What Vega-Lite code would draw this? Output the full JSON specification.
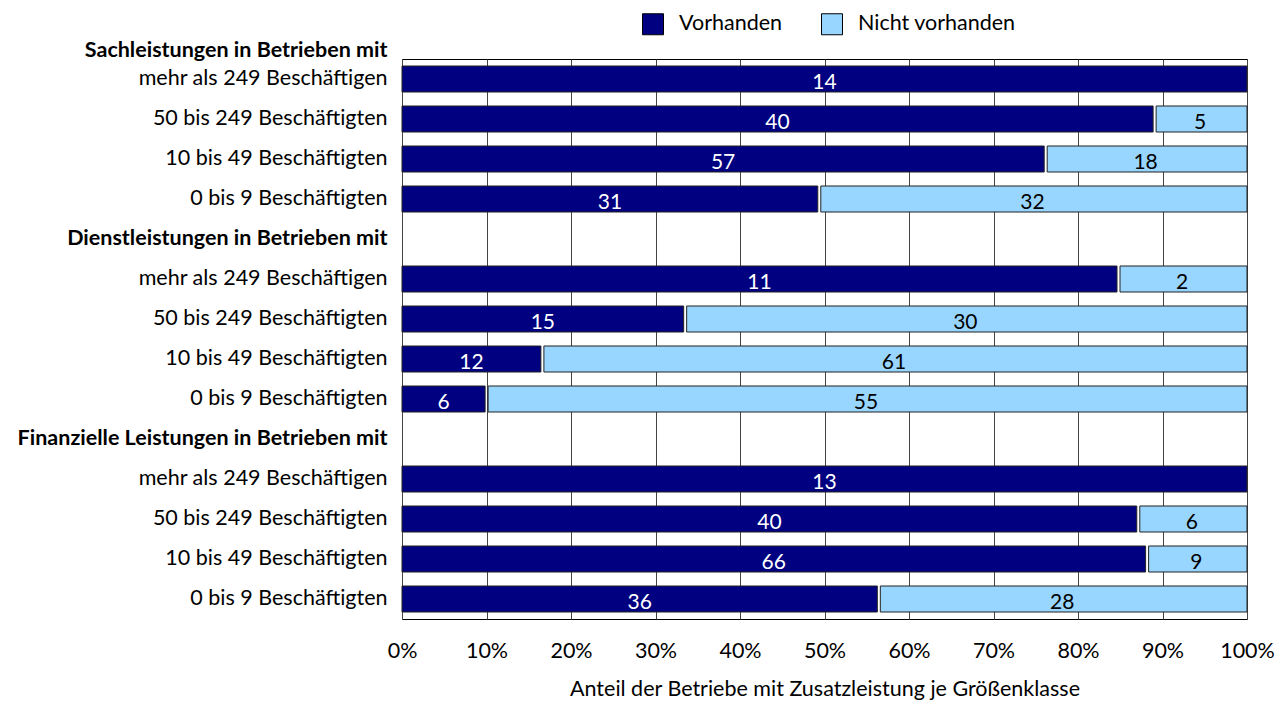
{
  "$schema": "https://vega.github.io/schema/vega-lite/v6.json",
  "autosize": {"type": "none"},
  "padding": {"left": 402, "top": 59, "right": 36, "bottom": 82},
  "width": 845,
  "height": 560,
  "background": "#ffffff",
  "data": {
    "values": [
      {"row": "Sach|mehr als 249 Beschäftigen", "status": "Vorhanden", "n": 14},
      {"row": "Sach|50 bis 249 Beschäftigten", "status": "Vorhanden", "n": 40},
      {"row": "Sach|50 bis 249 Beschäftigten", "status": "Nicht vorhanden", "n": 5},
      {"row": "Sach|10 bis 49 Beschäftigten", "status": "Vorhanden", "n": 57},
      {"row": "Sach|10 bis 49 Beschäftigten", "status": "Nicht vorhanden", "n": 18},
      {"row": "Sach|0 bis 9 Beschäftigten", "status": "Vorhanden", "n": 31},
      {"row": "Sach|0 bis 9 Beschäftigten", "status": "Nicht vorhanden", "n": 32},
      {"row": "Dienst|mehr als 249 Beschäftigen", "status": "Vorhanden", "n": 11},
      {"row": "Dienst|mehr als 249 Beschäftigen", "status": "Nicht vorhanden", "n": 2},
      {"row": "Dienst|50 bis 249 Beschäftigten", "status": "Vorhanden", "n": 15},
      {"row": "Dienst|50 bis 249 Beschäftigten", "status": "Nicht vorhanden", "n": 30},
      {"row": "Dienst|10 bis 49 Beschäftigten", "status": "Vorhanden", "n": 12},
      {"row": "Dienst|10 bis 49 Beschäftigten", "status": "Nicht vorhanden", "n": 61},
      {"row": "Dienst|0 bis 9 Beschäftigten", "status": "Vorhanden", "n": 6},
      {"row": "Dienst|0 bis 9 Beschäftigten", "status": "Nicht vorhanden", "n": 55},
      {"row": "Finanz|mehr als 249 Beschäftigen", "status": "Vorhanden", "n": 13},
      {"row": "Finanz|50 bis 249 Beschäftigten", "status": "Vorhanden", "n": 40},
      {"row": "Finanz|50 bis 249 Beschäftigten", "status": "Nicht vorhanden", "n": 6},
      {"row": "Finanz|10 bis 49 Beschäftigten", "status": "Vorhanden", "n": 66},
      {"row": "Finanz|10 bis 49 Beschäftigten", "status": "Nicht vorhanden", "n": 9},
      {"row": "Finanz|0 bis 9 Beschäftigten", "status": "Vorhanden", "n": 36},
      {"row": "Finanz|0 bis 9 Beschäftigten", "status": "Nicht vorhanden", "n": 28}
    ]
  },
  "transform": [
    {"stack": "n", "groupby": ["row"], "offset": "normalize", "sort": [{"field": "status", "order": "descending"}], "as": ["x0", "x1"]},
    {"calculate": "(datum.x0 + datum.x1) / 2", "as": "xmid"}
  ],
  "encoding": {
    "y": {
      "field": "row",
      "type": "nominal",
      "scale": {
        "domain": [
          "Sach|mehr als 249 Beschäftigen",
          "Sach|50 bis 249 Beschäftigten",
          "Sach|10 bis 49 Beschäftigten",
          "Sach|0 bis 9 Beschäftigten",
          "Dienst|Dienstleistungen in Betrieben mit",
          "Dienst|mehr als 249 Beschäftigen",
          "Dienst|50 bis 249 Beschäftigten",
          "Dienst|10 bis 49 Beschäftigten",
          "Dienst|0 bis 9 Beschäftigten",
          "Finanz|Finanzielle Leistungen in Betrieben mit",
          "Finanz|mehr als 249 Beschäftigen",
          "Finanz|50 bis 249 Beschäftigten",
          "Finanz|10 bis 49 Beschäftigten",
          "Finanz|0 bis 9 Beschäftigten"
        ],
        "paddingInner": 0.35,
        "paddingOuter": 0.175
      },
      "axis": {
        "title": "Sachleistungen in Betrieben mit",
        "titleAngle": 0,
        "titleAlign": "right",
        "titleBaseline": "middle",
        "titleX": -15,
        "titleY": -9,
        "titleFontSize": 21.5,
        "titleFontWeight": "bold",
        "titleColor": "#000000",
        "labelExpr": "split(datum.value, '|')[1]",
        "labelFontSize": 21.5,
        "labelColor": "#000000",
        "labelPadding": 15,
        "labelLimit": 500,
        "labelFontWeight": {"condition": {"test": "indexof(datum.value, 'Betrieben mit') >= 0", "value": "bold"}, "value": "normal"},
        "ticks": false,
        "domain": false,
        "grid": false
      }
    }
  },
  "layer": [
    {
      "mark": {"type": "bar", "stroke": "#222222", "strokeWidth": 1, "xOffset": {"expr": "datum.status == 'Nicht vorhanden' ? 3 : 0"}},
      "encoding": {
        "x": {
          "field": "x0",
          "type": "quantitative",
          "scale": {"domain": [0, 1], "nice": false, "zero": true},
          "axis": {
            "values": [0, 0.1, 0.2, 0.3, 0.4, 0.5, 0.6, 0.7, 0.8, 0.9, 1],
            "format": ".0%",
            "title": "Anteil der Betriebe mit Zusatzleistung je Größenklasse",
            "titleFontSize": 21.5,
            "titleFontWeight": "normal",
            "titleColor": "#000000",
            "titlePadding": 17,
            "labelFontSize": 21.5,
            "labelColor": "#000000",
            "labelPadding": 21,
            "labelFlush": false,
            "ticks": false,
            "domain": false,
            "grid": true,
            "gridColor": "#444444",
            "gridOpacity": 1,
            "gridWidth": 1
          }
        },
        "x2": {"field": "x1"},
        "color": {
          "field": "status",
          "type": "nominal",
          "scale": {"domain": ["Vorhanden", "Nicht vorhanden"], "range": ["#000080", "#99D6FF"]},
          "legend": {
            "title": null,
            "orient": "none",
            "direction": "horizontal",
            "legendX": 240,
            "legendY": -46,
            "symbolType": "square",
            "symbolSize": 441,
            "symbolStrokeColor": "#000000",
            "symbolStrokeWidth": 1,
            "labelFontSize": 21.5,
            "labelColor": "#000000",
            "labelOffset": 15,
            "columnPadding": 36,
            "padding": 0
          }
        }
      }
    },
    {
      "mark": {"type": "text", "fontSize": 21, "baseline": "middle", "dy": 4},
      "encoding": {
        "x": {"field": "xmid", "type": "quantitative"},
        "text": {"field": "n", "type": "quantitative"},
        "color": {
          "condition": {"test": "datum.status == 'Vorhanden'", "value": "#ffffff"},
          "value": "#000000"
        }
      }
    }
  ],
  "config": {
    "font": "Lato",
    "view": {"stroke": "#000000", "strokeWidth": 1}
  }
}
